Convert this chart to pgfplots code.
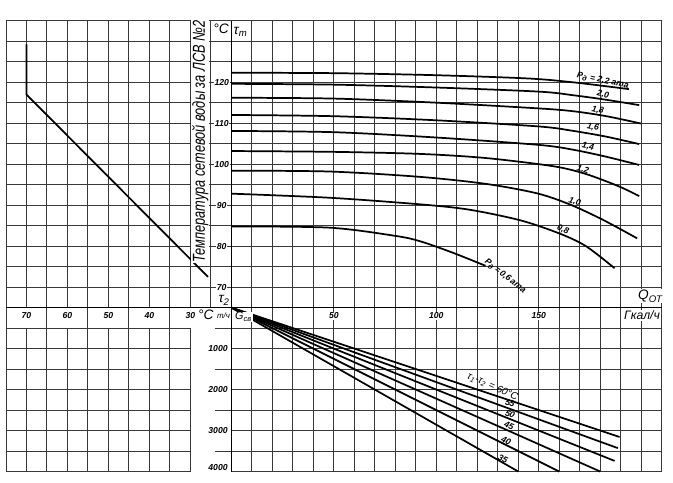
\documentclass[border=0pt]{standalone}
\usepackage{pgfplots}
\pgfplotsset{compat=1.18}
\usepackage{fontspec}
\setmainfont{Liberation Sans}
\newcommand{\tk}{\fontsize{6}{6}\selectfont\bfseries\itshape}
\newcommand{\lb}{\fontsize{9.5}{10}\selectfont\itshape}
\begin{document}
\begin{tikzpicture}
\tikzset{gr/.style={black!78, line width=0.6pt}, crv/.style={black, line width=1.2pt, smooth, tension=0.5}}
% ---------- grid ----------
\begin{scope}[x=0.5cm,y=0.5cm]
\draw[gr, step=1] (-11,0) grid (21,14);
\draw[gr, step=1] (0,-8) grid (21,0);
\foreach \i in {-11,-9,-7,-5,-3} \draw[gr] (\i,-8)--(\i,0);
\foreach \i in {-10,-8,-6,-4,-2} \draw[gr] (\i,-8)--(\i,-1);
\foreach \j in {-1,-2,-3,-4,-5,-6,-7,-8} \draw[gr] (-11,\j)--(-2,\j);
\foreach \j in {-1,-3,-5,-7} \draw[gr] (-0.8,\j)--(0,\j);
\draw[black, line width=1.2pt] (-11,0)--(21,0);
\draw[black, line width=1.2pt] (0,-8)--(0,14);
\end{scope}

% ---------- upper right: tau1 vs Q ----------
\begin{axis}[at={(0,0)}, anchor=south west, scale only axis, width=10.5cm, height=7cm,
  xmin=0, xmax=210, ymin=65, ymax=135, hide axis, clip=false]
\addplot[crv] coordinates {(0,122.3) (50,122.2) (100,121.7) (145,120.9) (168,119.9) (194,118.3)};
\addplot[crv] coordinates {(0,119.6) (50,119.4) (100,118.7) (150,117.7) (167,116.8) (183,115.7) (199,114.4)};
\addplot[crv] coordinates {(0,116.2) (50,116.0) (100,115.0) (150,113.6) (167,112.9) (183,111.7) (200,109.9)};
\addplot[crv] coordinates {(0,112.0) (50,111.7) (100,110.7) (150,109.2) (167,108.1) (183,106.7) (199,104.9)};
\addplot[crv] coordinates {(0,108.1) (50,107.8) (100,106.5) (150,104.7) (167,103.5) (183,101.8) (199,99.8)};
\addplot[crv] coordinates {(0,103.2) (50,103.0) (92,102.5) (124,101.5) (157,99.5) (173,97.6) (189,94.6) (199,92.2)};
\addplot[crv] coordinates {(0,98.4) (48,98.2) (92,96.9) (124,95.2) (149,92.9) (165,90.2) (181,86.5) (198,81.9)};
\addplot[crv] coordinates {(0,92.8) (48,91.8) (92,90.2) (116,88.9) (141,86.3) (160,83.1) (173,80.0) (187,74.6)};
\addplot[crv] coordinates {(0,84.8) (48,84.5) (80,82.5) (92,81.2) (108,78.4) (124,75.2)};
\node[rotate=-12, inner sep=0.5pt] at (axis cs:181.2,120.3) {\tk Р\textsubscript{д} = 2,2 ата};
\node[rotate=-12, inner sep=0.5pt] at (axis cs:181.3,116.9) {\tk 2,0};
\node[rotate=-12, inner sep=0.5pt] at (axis cs:178.8,113.2) {\tk 1,8};
\node[rotate=-12, inner sep=0.5pt] at (axis cs:176.4,109.0) {\tk 1,6};
\node[rotate=-12, inner sep=0.5pt] at (axis cs:174.0,104.2) {\tk 1,4};
\node[rotate=-15, inner sep=0.5pt] at (axis cs:171.5,98.7) {\tk 1,2};
\node[rotate=-18, inner sep=0.5pt] at (axis cs:167.5,90.8) {\tk 1,0};
\node[rotate=-22, inner sep=0.5pt] at (axis cs:161.8,84.0) {\tk 0,8};
\node[rotate=-38, inner sep=0.5pt] at (axis cs:133.5,72.6) {\tk Р\textsubscript{д}\,=\,0,6\,ата};
\end{axis}

% ---------- upper left: tau2 vs tau1 ----------
\begin{axis}[at={(0,0)}, anchor=south east, scale only axis, width=5.5cm, height=7cm,
  xmin=20, xmax=75, x dir=reverse, ymin=65, ymax=135, hide axis]
\addplot[black, line width=1.2pt] coordinates {(70,129.2) (70,117.0) (25.7,72.5)};
\end{axis}

% ---------- lower right: G vs Q ----------
\begin{axis}[at={(0,0)}, anchor=north west, scale only axis, width=10.5cm, height=4cm,
  xmin=0, xmax=210, ymin=0, ymax=4000, y dir=reverse, hide axis, clip=false]
\addplot[black, line width=1.2pt] coordinates {(0,0) (189.4,3157)};
\addplot[black, line width=1.2pt] coordinates {(0,0) (188.6,3429)};
\addplot[black, line width=1.2pt] coordinates {(0,0) (187.0,3740)};
\addplot[black, line width=1.2pt] coordinates {(0,0) (180.0,4000)};
\addplot[black, line width=1.2pt] coordinates {(0,0) (160.0,4000)};
\addplot[black, line width=1.2pt] coordinates {(0,0) (140.0,4000)};
\node[rotate=-24, inner sep=0.5pt] at (axis cs:127.5,1930) {\fontsize{7}{7}\selectfont\itshape τ\textsubscript{1}-τ\textsubscript{2} = 60°C};
\node[rotate=-22, inner sep=0.3pt] at (axis cs:136.0,2330) {\tk 55};
\node[rotate=-22, inner sep=0.3pt] at (axis cs:136.0,2600) {\tk 50};
\node[rotate=-22, inner sep=0.3pt] at (axis cs:135.5,2890) {\tk 45};
\node[rotate=-24, inner sep=0.3pt] at (axis cs:134.1,3250) {\tk 40};
\node[rotate=-26, inner sep=0.3pt] at (axis cs:132.5,3700) {\tk 35};
\end{axis}

% ---------- labels ----------
\begin{scope}[x=0.5cm,y=0.5cm]
\foreach \k/\t in {1/70,3/80,5/90,7/100,9/110,11/120}
  \node[fill=white, inner sep=0.6pt] at (-0.47,\k) {\tk \t};
\node at (-0.5,13.6) {\lb °C};
\node at (0.45,13.45) {\lb τ\textsubscript{т}};
\node at (-0.35,0.35) {\lb τ\textsubscript{2}};
\foreach \c/\t in {-10/70,-8/60,-6/50,-4/40,-2/30}
  \node[fill=white, inner sep=0.6pt] at (\c,-0.4) {\tk \t};
\node[fill=white, inner sep=0.4pt] at (-1.25,-0.35) {\lb °C};
\node[inner sep=0.2pt] at (-0.38,-0.4) {\fontsize{5.5}{6}\selectfont\itshape т/ч};
\node[fill=white, inner sep=0.3pt] at (0.6,-0.45) {\fontsize{7.5}{8}\selectfont\itshape G\textsubscript{св}};
\foreach \c/\t in {5/50,10/100,15/150}
  \node[fill=white, inner sep=0.6pt] at (\c,-0.4) {\tk \t};
\node[fill=white, inner sep=0.6pt] at (20.45,0.55) {\lb Q\textsubscript{ОТ}};
\node[fill=white, inner sep=0.6pt, anchor=east] at (20.97,-0.38) {\fontsize{8.5}{9}\selectfont\itshape Гкал/ч};
\foreach \k/\t in {-2/1000,-4/2000,-6/3000}
  \node[fill=white, inner sep=0.6pt] at (-0.65,\k) {\tk \t};
\node[inner sep=0.6pt] at (-0.65,-7.8) {\tk 4000};
\node[rotate=90, fill=white, inner sep=0.5pt] at (-1.52,8.1)
  {\resizebox{5.9cm}{\height}{\fontsize{12}{13}\selectfont\itshape Температура сетевой воды за ЛСВ №2}};
\end{scope}
\pgfresetboundingbox
\path[use as bounding box] (-5.645cm,-4.275cm) rectangle (10.775cm,7.505cm);
\end{tikzpicture}
\end{document}
